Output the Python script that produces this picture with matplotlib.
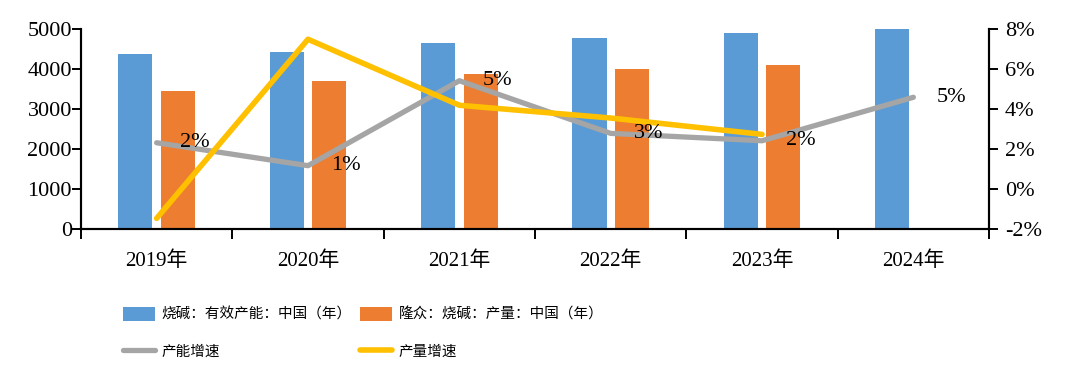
import numpy as np
import matplotlib
matplotlib.use("Agg")
import matplotlib.pyplot as plt
from matplotlib.ticker import FuncFormatter

years = ["2019年", "2020年", "2021年", "2022年", "2023年", "2024年"]
capacity = [4380, 4430, 4660, 4780, 4910, 5010]          # 烧碱：有效产能
output = [3460, 3700, 3880, 4000, 4100, np.nan]          # 隆众：烧碱：产量
cap_growth = [2.31, 1.16, 5.42, 2.78, 2.41, 4.59]        # 产能增速 (%)
out_growth = [-1.48, 7.5, 4.19, 3.55, 2.73, np.nan]      # 产量增速 (%)

num_font = "Liberation Serif"
cjk = ["Liberation Serif", "Noto Sans CJK SC"]
plt.rcParams["font.family"] = cjk

fig = plt.figure(figsize=(10.74, 3.9), dpi=100)
ax = fig.add_axes([0.0754, 0.4136, 0.9209 - 0.0754, 0.9249 - 0.4136])
ax2 = ax.twinx()

x = np.arange(len(years))
w = 0.225
b1 = ax.bar(x - 0.14, capacity, w, color="#5B9BD5")
b2 = ax.bar(x + 0.14, output, w, color="#ED7D31")

l1, = ax2.plot(x, cap_growth, color="#A5A5A5", lw=3.8, solid_capstyle="round")
l2, = ax2.plot(x, out_growth, color="#FFC000", lw=4.0, solid_capstyle="round")
for xi, v in zip(x, cap_growth):
    ax2.annotate(f"{v:.0f}%", (xi, v), xytext=(17, 0), textcoords="offset points",
                 ha="left", va="center", fontsize=16, family=num_font, zorder=5)

ax.set_xlim(-0.5, 5.5)
ax.set_ylim(0, 5000)
ax.set_yticks(range(0, 5001, 1000))
ax2.set_ylim(-2, 8)
ax2.set_yticks(range(-2, 9, 2))
ax2.yaxis.set_major_formatter(FuncFormatter(lambda v, p: f"{v:.0f}%"))

ax.set_xticks(x)
ax.set_xticklabels(years, fontsize=15)
ax.set_xticks(np.arange(-0.5, 6, 1), minor=True)
ax.tick_params(axis="x", which="major", length=0, pad=16)
ax.tick_params(axis="x", which="minor", length=7, width=1.4, direction="out")
ax.tick_params(axis="y", length=6.5, width=1.4, pad=0, labelsize=16)
ax2.tick_params(axis="y", length=6.5, width=1.4, pad=5, labelsize=16)
for t in ax.get_yticklabels() + ax2.get_yticklabels():
    t.set_family(num_font)

for a in (ax, ax2):
    a.spines["top"].set_visible(False)
    for s in ("left", "right", "bottom"):
        a.spines[s].set_linewidth(1.5)

leg_kw = dict(loc="upper left", frameon=False,
              prop={"family": "Noto Sans CJK SC", "size": 10.5},
              handlelength=2.2, handleheight=1.1, handletextpad=0.45,
              labelspacing=1.5, borderaxespad=0, borderpad=0)
leg1 = fig.legend([b1, l1], ["烧碱：有效产能：中国（年）", "产能增速"],
                  bbox_to_anchor=(123 / 1074, 1 - 307 / 390), **leg_kw)
leg2 = fig.legend([b2, l2], ["隆众：烧碱：产量：中国（年）", "产量增速"],
                  bbox_to_anchor=(360 / 1074, 1 - 307 / 390), **leg_kw)

fig.savefig("out.png", dpi=100)
